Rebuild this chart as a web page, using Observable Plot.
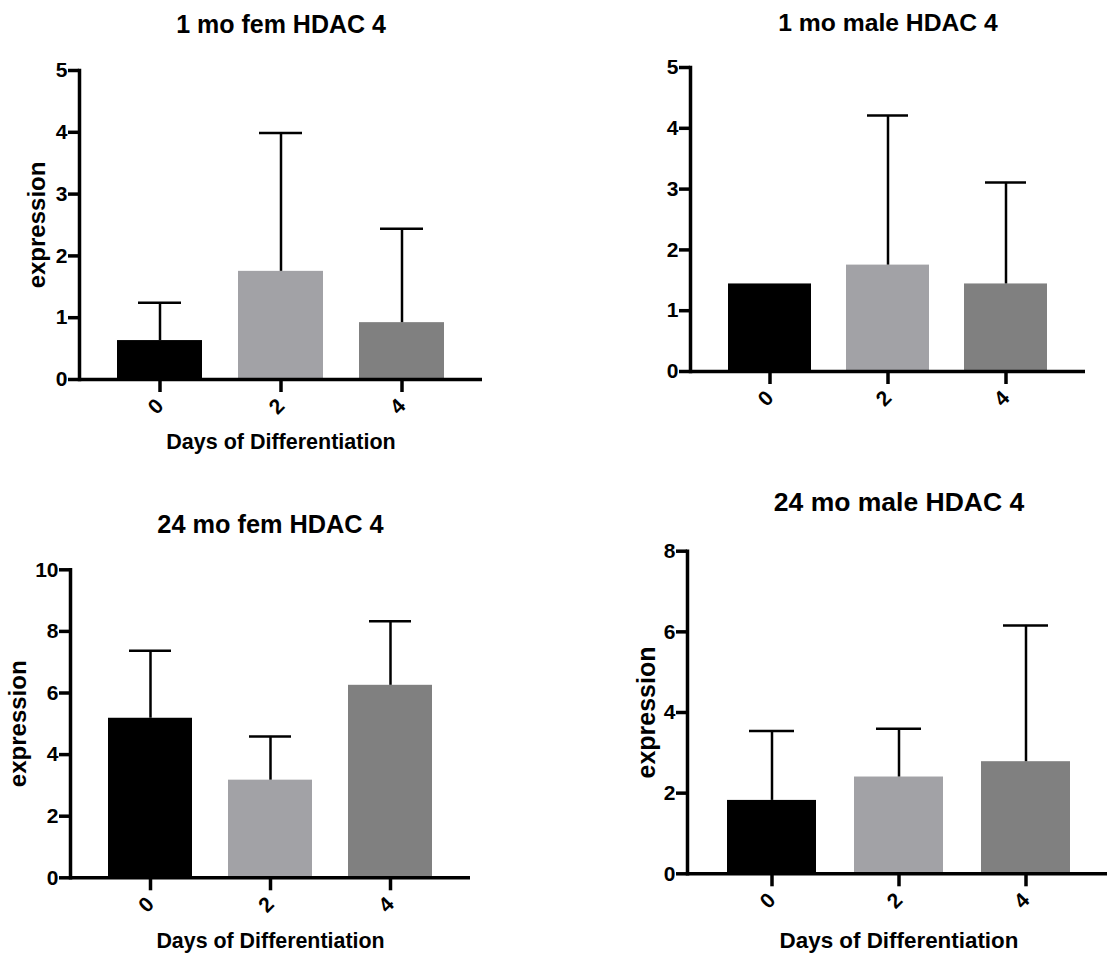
<!DOCTYPE html>
<html><head><meta charset="utf-8">
<script src="https://cdn.jsdelivr.net/npm/d3@7"></script>
<script src="https://cdn.jsdelivr.net/npm/@observablehq/plot@0.6"></script>
<style>
html,body{margin:0;padding:0;background:#fff;overflow:hidden;}
#wrap{position:relative;width:1107px;height:957px;overflow:hidden;background:#fff;}
.panel{position:absolute;}
.panel g[aria-label="y-axis tick"], .panel g[aria-label="x-axis tick"],
.panel g[aria-label="y-axis tick"] *, .panel g[aria-label="x-axis tick"] *{stroke-width:3.5px !important;stroke:#000;}
</style></head><body><div id="wrap"></div>
<script>
// ---- data ----
const days = ["0", "2", "4"];
const barColors = ["#000000", "#a2a2a6", "#808080"];
const titles = ["1 mo fem HDAC 4", "1 mo male HDAC 4", "24 mo fem HDAC 4", "24 mo male HDAC 4"];
const yLabel = "expression";
const xLabel = "Days of Differentiation";

const fem1Mean = [0.63, 1.75, 0.92];
const fem1Err  = [0.61, 2.24, 1.52];
const male1Mean = [1.44, 1.75, 1.44];
const male1Err  = [0, 2.46, 1.67];
const fem24Mean = [5.18, 3.17, 6.25];
const fem24Err  = [2.19, 1.42, 2.08];
const male24Mean = [1.82, 2.40, 2.78];
const male24Err  = [1.72, 1.20, 3.38];

const ticks1 = [0, 1, 2, 3, 4, 5];
const ticks24f = [0, 2, 4, 6, 8, 10];
const ticks24m = [0, 2, 4, 6, 8];

// ---- layout ----
const font = "'Liberation Sans', Arial, Helvetica, sans-serif";
const panels = [
  {mean: fem1Mean, err: fem1Err, ticks: ticks1, title: titles[0], yMax: 5,
   left: 0, top: 0, width: 560, height: 478, mL: 79, mR: 78, mT: 70, mB: 99, po: 0.315, inset: 21,
   titleDy: -38, titleSize: 25, yLab: true, yLabDx: -35, yLabSize: 24, xLab: true, xLabDy: 69.4, xLabSize: 21.5},
  {mean: male1Mean, err: male1Err, ticks: ticks1, title: titles[1], yMax: 5,
   left: 560, top: 0, width: 547, height: 478, mL: 130, mR: 22, mT: 67, mB: 107, po: 0.317, inset: 21,
   titleDy: -37, titleSize: 24.7, yLab: false, xLab: false},
  {mean: fem24Mean, err: fem24Err, ticks: ticks24f, title: titles[2], yMax: 10,
   left: 0, top: 478, width: 560, height: 479, mL: 70, mR: 90, mT: 91.3, mB: 79.7, po: 0.31, inset: 21,
   titleDy: -37.3, titleSize: 25.3, yLab: true, yLabDx: -45, yLabSize: 24, xLab: true, xLabDy: 70, xLabSize: 21.4},
  {mean: male24Mean, err: male24Err, ticks: ticks24m, title: titles[3], yMax: 8,
   left: 560, top: 478, width: 560, height: 479, mL: 127, mR: 10, mT: 72.7, mB: 83.7, po: 0.315, inset: 22,
   titleDy: -40.7, titleSize: 26.5, yLab: true, yLabDx: -33, yLabSize: 25, xLab: true, xLabDy: 74.5, xLabSize: 22.4}
];

const wrap = document.getElementById("wrap");
for (const p of panels) {
  const rows = days.map((d, i) => ({day: d, mean: p.mean[i], sd: p.err[i]}));
  const withErr = rows.filter(r => r.sd > 0);
  const marks = [
    Plot.barY(rows, {x: "day", y: "mean", fill: "day"}),
    Plot.ruleX(withErr, {x: "day", y1: "mean", y2: d => d.mean + d.sd, stroke: "#000", strokeWidth: 2.5}),
    Plot.tickY(withErr, {x: "day", y: d => d.mean + d.sd, stroke: "#000", strokeWidth: 2.5, insetLeft: p.inset, insetRight: p.inset}),
    Plot.ruleY([0], {stroke: "#000", strokeWidth: 3.5}),
    Plot.frame({anchor: "left", stroke: "#000", strokeWidth: 3.5}),
    Plot.axisY({ticks: p.ticks, tickFormat: d => String(d), tickSize: 11, tickPadding: 1, strokeWidth: 3.5, fontSize: 21, fontWeight: "bold", fill: "#000", label: null}),
    Plot.axisX({tickSize: 13, tickPadding: 10, tickRotate: -45, strokeWidth: 3.5, fontSize: 21, fontWeight: "bold", fill: "#000", label: null}),
    Plot.text([p.title], {text: d => d, frameAnchor: "top", textAnchor: "middle", lineAnchor: "bottom", dy: p.titleDy, fontSize: p.titleSize, fontWeight: "bold", fill: "#000"})
  ];
  if (p.yLab) marks.push(Plot.text([yLabel], {text: d => d, frameAnchor: "left", textAnchor: "middle", rotate: -90, lineAnchor: "bottom", dx: p.yLabDx, fontSize: p.yLabSize, fontWeight: "bold", fill: "#000"}));
  if (p.xLab) marks.push(Plot.text([xLabel], {text: d => d, frameAnchor: "bottom", textAnchor: "middle", lineAnchor: "bottom", dy: p.xLabDy, fontSize: p.xLabSize, fontWeight: "bold", fill: "#000"}));

  const svg = Plot.plot({
    width: p.width, height: p.height,
    marginLeft: p.mL, marginRight: p.mR, marginTop: p.mT, marginBottom: p.mB,
    x: {type: "band", domain: days, paddingInner: 0.3, paddingOuter: p.po, axis: null},
    y: {domain: [0, p.yMax], axis: null},
    color: {domain: days, range: barColors},
    style: {fontFamily: font, fontWeight: "bold", fontSize: "21px", color: "#000", background: "transparent", overflow: "visible"},
    marks
  });
  svg.classList.add("panel");
  svg.style.left = p.left + "px";
  svg.style.top = p.top + "px";
  wrap.appendChild(svg);
}
</script>
</body></html>
